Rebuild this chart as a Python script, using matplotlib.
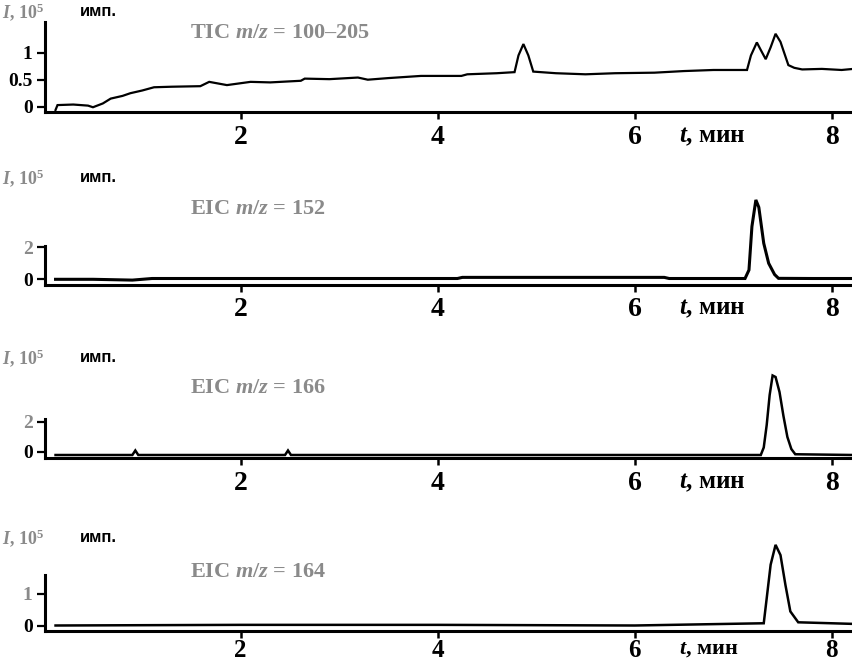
import matplotlib
matplotlib.use("Agg")
import matplotlib.pyplot as plt

plt.rcParams['font.family'] = ['Liberation Serif', 'DejaVu Serif']
plt.rcParams['font.weight'] = 'bold'
plt.rcParams['mathtext.fontset'] = 'custom'
plt.rcParams['mathtext.rm'] = 'Liberation Serif:bold'
plt.rcParams['mathtext.it'] = 'Liberation Serif:italic:bold'
plt.rcParams['mathtext.bf'] = 'Liberation Serif:bold'

# TIC trace
tic_t = [0.12, 0.14, 0.3, 0.45, 0.5, 0.6, 0.68, 0.8, 0.88, 1.0, 1.12, 1.3, 1.59, 1.68,
         1.86, 2.1, 2.3, 2.61, 2.65, 2.9, 3.19, 3.29, 3.5, 3.83, 4.24, 4.3, 4.6, 4.78,
         4.82, 4.87, 4.92, 4.97, 5.2, 5.5, 5.8, 6.2, 6.5, 6.8, 7.14, 7.18, 7.24, 7.28,
         7.33, 7.38, 7.43, 7.48, 7.56, 7.62, 7.70, 7.9, 8.1, 8.22]
tic_v = [-0.06, 0.03, 0.04, 0.02, -0.01, 0.06, 0.15, 0.2, 0.25, 0.3, 0.36, 0.37, 0.38, 0.46,
         0.40, 0.46, 0.45, 0.48, 0.52, 0.51, 0.54, 0.50, 0.53, 0.57, 0.57, 0.60, 0.62, 0.64,
         0.95, 1.16, 0.95, 0.65, 0.62, 0.60, 0.62, 0.63, 0.66, 0.68, 0.68, 0.95, 1.19, 1.05,
         0.88, 1.1, 1.35, 1.2, 0.77, 0.72, 0.69, 0.70, 0.68, 0.70]

# EIC traces
e152_t = [0.12, 0.5, 0.9, 1.1, 2.0, 3.0, 4.2, 4.25, 5.0, 6.3, 6.35, 7.0, 7.12, 7.16, 7.19,
          7.23, 7.26, 7.31, 7.36, 7.42, 7.46, 7.8, 8.22]
e152_v = [0.0, 0.0, -0.05, 0.05, 0.05, 0.05, 0.05, 0.12, 0.12, 0.12, 0.05, 0.05, 0.05, 0.58,
          3.3, 4.96, 4.5, 2.25, 1.0, 0.3, 0.06, 0.05, 0.05]

e166_t = [0.12, 0.9, 0.93, 0.96, 2.45, 2.48, 2.51, 4.0, 6.0, 7.28, 7.31, 7.34, 7.37, 7.40,
          7.43, 7.47, 7.51, 7.55, 7.59, 7.63, 8.22]
e166_v = [-0.2, -0.2, 0.1, -0.2, -0.2, 0.1, -0.2, -0.2, -0.2, -0.2, 0.3, 1.8, 3.8, 5.1,
          5.0, 4.0, 2.4, 1.0, 0.2, -0.15, -0.2]

e164_t = [0.12, 2.0, 4.0, 6.0, 7.31, 7.34, 7.38, 7.43, 7.48, 7.53, 7.58, 7.66, 8.22]
e164_v = [0.0, 0.02, 0.02, 0.0, 0.07, 0.85, 1.9, 2.52, 2.2, 1.27, 0.44, 0.1, 0.05]

titles = ['TIC $m/z$ = 100–205', 'EIC $m/z$ = 152', 'EIC $m/z$ = 166', 'EIC $m/z$ = 164']
xticks = [2, 4, 6, 8]
yticks = [[0, 0.5, 1], [0, 2], [0, 2], [0, 1]]
yticklabels = [['0', '0.5', '1'], ['0', '2'], ['0', '2'], ['0', '1']]

series = [(tic_t, tic_v, 1.6), (e152_t, e152_v, 2.2), (e166_t, e166_v, 1.8), (e164_t, e164_v, 1.8)]

# pixel geometry: x-axis y, zero y, px per unit, spine top y, axes top y, title y, ylabel y
geom = [(112, 106.7, 54, 22, 20, 33, 12),
        (284.5, 279.3, 16, 246, 190, 209, 178),
        (458, 452, 15, 419, 365, 388, 358),
        (631, 625.5, 32, 575, 538, 572, 538)]
# tick label size / pad per panel (the last one sits on the bottom edge)
xfont = [20, 20, 20, 18]
xpad = [4, 4, 4, 1]

W, H = 852, 665
fig = plt.figure(figsize=(W / 100, H / 100), dpi=100)
faded = '#8a8a8a'

for i in range(4):
    xax, zero, ppu, stop, atop, ty, ly = geom[i]
    ax = fig.add_axes([45 / W, 1 - xax / H, (W - 45) / W, (xax - atop) / H])
    t, v, lw = series[i]
    ax.plot(t, v, color='black', lw=lw, solid_joinstyle='miter')
    ax.set_xlim(0.013, 8.206)
    ax.set_ylim(-(xax - zero) / ppu, (zero - atop) / ppu)
    ax.spines['top'].set_visible(False)
    ax.spines['right'].set_visible(False)
    for s in ('left', 'bottom'):
        ax.spines[s].set_linewidth(2.2)
    ax.spines['left'].set_bounds(-(xax - zero) / ppu, (zero - stop) / ppu)
    ax.set_xticks(xticks)
    ax.set_xticklabels([str(x) for x in xticks], fontsize=xfont[i], fontweight='bold')
    ax.set_yticks(yticks[i])
    ax.set_yticklabels(yticklabels[i], fontsize=14, fontweight='bold')
    if i > 0:
        ax.get_yticklabels()[1].set_color(faded)
    ax.tick_params(axis='x', direction='out', length=5, width=1.8, pad=xpad[i])
    ax.tick_params(axis='y', direction='out', length=6, width=1.6, pad=3)
    ax.annotate('$t$, мин', xy=(6.45, 0), xycoords=('data', 'axes fraction'),
                xytext=(0, -5 - xpad[i]), textcoords='offset points', va='top', ha='left',
                fontsize=xfont[i] - 2, fontweight='bold')
    fig.text(190 / W, 1 - ty / H, titles[i], fontsize=16, fontweight='bold',
             color=faded, va='center', ha='left')
    fig.text(2 / W, 1 - ly / H, '$I$, 10$^5$', fontsize=13, color=faded,
             va='center', ha='left')
    fig.text(80 / W, 1 - ly / H, 'имп.', fontsize=12, fontweight='bold',
             family='Liberation Sans', va='center', ha='left')

fig.savefig('out.png', dpi=100)
